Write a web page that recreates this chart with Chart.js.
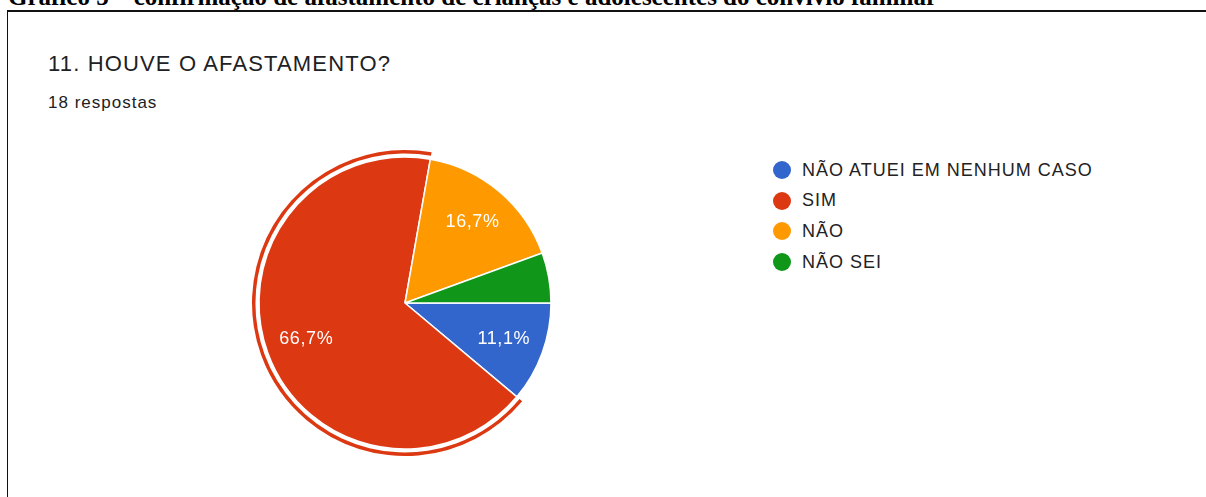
<!DOCTYPE html>
<html>
<head>
<meta charset="utf-8">
<script src="https://cdn.jsdelivr.net/npm/chart.js@4/dist/chart.umd.min.js"></script>
<style>
  html, body { margin:0; padding:0; background:#fff; width:1206px; height:497px; overflow:hidden; position:relative; }
  #caption { position:absolute; left:8px; top:-15.6px; font-family:"Liberation Serif", serif; font-weight:bold; font-size:25px; line-height:1; color:#000; white-space:nowrap; }
  #box { position:absolute; left:7px; top:10px; width:1300px; height:600px; border-top:2px solid #111; border-left:1.5px solid #111; }
  #title { position:absolute; left:48px; top:53px; font-family:"Liberation Sans", Arial, sans-serif; font-size:22px; letter-spacing:1.15px; line-height:1; color:#202124; white-space:nowrap; }
  #sub { position:absolute; left:48px; top:94px; font-family:"Liberation Sans", Arial, sans-serif; font-size:17px; letter-spacing:1px; line-height:1; color:#202124; white-space:nowrap; }
  #chartWrap { position:absolute; left:245px; top:143px; width:320px; height:320px; }
  #legend { position:absolute; left:773px; top:160px; font-family:"Liberation Sans", Arial, sans-serif; font-size:18px; letter-spacing:1px; color:#222; }
  .row { position:absolute; left:0; height:20px; white-space:nowrap; display:flex; align-items:center; }
  .dot { width:18px; height:18px; border-radius:50%; margin-right:11px; flex:none; }
</style>
</head>
<body>
<div id="caption">Gráfico 5 – confirmação de afastamento de crianças e adolescentes do convívio familiar</div>
<div id="box"></div>
<div id="title">11. HOUVE O AFASTAMENTO?</div>
<div id="sub">18 respostas</div>
<div id="chartWrap"><canvas id="c" width="320" height="320"></canvas></div>
<div id="legend"></div>
<script>
const categories = ['NÃO ATUEI EM NENHUM CASO', 'SIM', 'NÃO', 'NÃO SEI'];
const responses = [2, 12, 3, 1];
const colors = ['#3366CC', '#DC3912', '#FF9900', '#109618'];
const highlightedIndex = 1;

// HTML legend from the arrays
const legend = document.getElementById('legend');
categories.forEach((lab, i) => {
  const row = document.createElement('div');
  row.className = 'row';
  row.style.top = (i * 30.7) + 'px';
  const dot = document.createElement('span');
  dot.className = 'dot';
  dot.style.background = colors[i];
  const t = document.createElement('span');
  t.textContent = lab;
  row.appendChild(dot); row.appendChild(t);
  legend.appendChild(row);
});

const pctLabels = {
  id: 'pctLabels',
  afterDatasetsDraw(chart) {
    const dsIndex = 2;
    const meta = chart.getDatasetMeta(dsIndex);
    const vals = chart.data.datasets[dsIndex].data;
    const total = vals.reduce((a, b) => a + b, 0);
    const ctx = chart.ctx;
    ctx.save();
    ctx.font = '18px "Liberation Sans", Arial, sans-serif';
    if ('letterSpacing' in ctx) ctx.letterSpacing = '0.6px';
    ctx.fillStyle = '#ffffff';
    ctx.textAlign = 'center';
    ctx.textBaseline = 'middle';
    meta.data.forEach((arc, i) => {
      const pct = vals[i] / total * 100;
      if (pct < 10) return;
      const p = arc.getProps(['x', 'y', 'startAngle', 'endAngle', 'outerRadius'], true);
      const mid = (p.startAngle + p.endAngle) / 2;
      const r = p.outerRadius * 0.72;
      ctx.fillText(pct.toFixed(1).replace('.', ',') + '%', p.x + Math.cos(mid) * r, p.y + Math.sin(mid) * r);
    });
    ctx.restore();
  }
};

new Chart(document.getElementById('c'), {
  type: 'pie',
  data: {
    labels: categories,
    datasets: [
      { data: responses, backgroundColor: colors.map((c, i) => i === highlightedIndex ? c : 'rgba(0,0,0,0)'), borderWidth: 0, weight: 3.5 },
      { data: responses, backgroundColor: 'rgba(0,0,0,0)', borderWidth: 0, weight: 3.5 },
      { data: responses, backgroundColor: colors, borderColor: '#ffffff', borderWidth: 1.5, weight: 146 }
    ]
  },
  options: {
    responsive: false,
    animation: false,
    events: [],
    rotation: 90,
    radius: 153,
    layout: { padding: 0 },
    plugins: { legend: { display: false }, tooltip: { enabled: false } }
  },
  plugins: [pctLabels]
});
</script>
</body>
</html>
